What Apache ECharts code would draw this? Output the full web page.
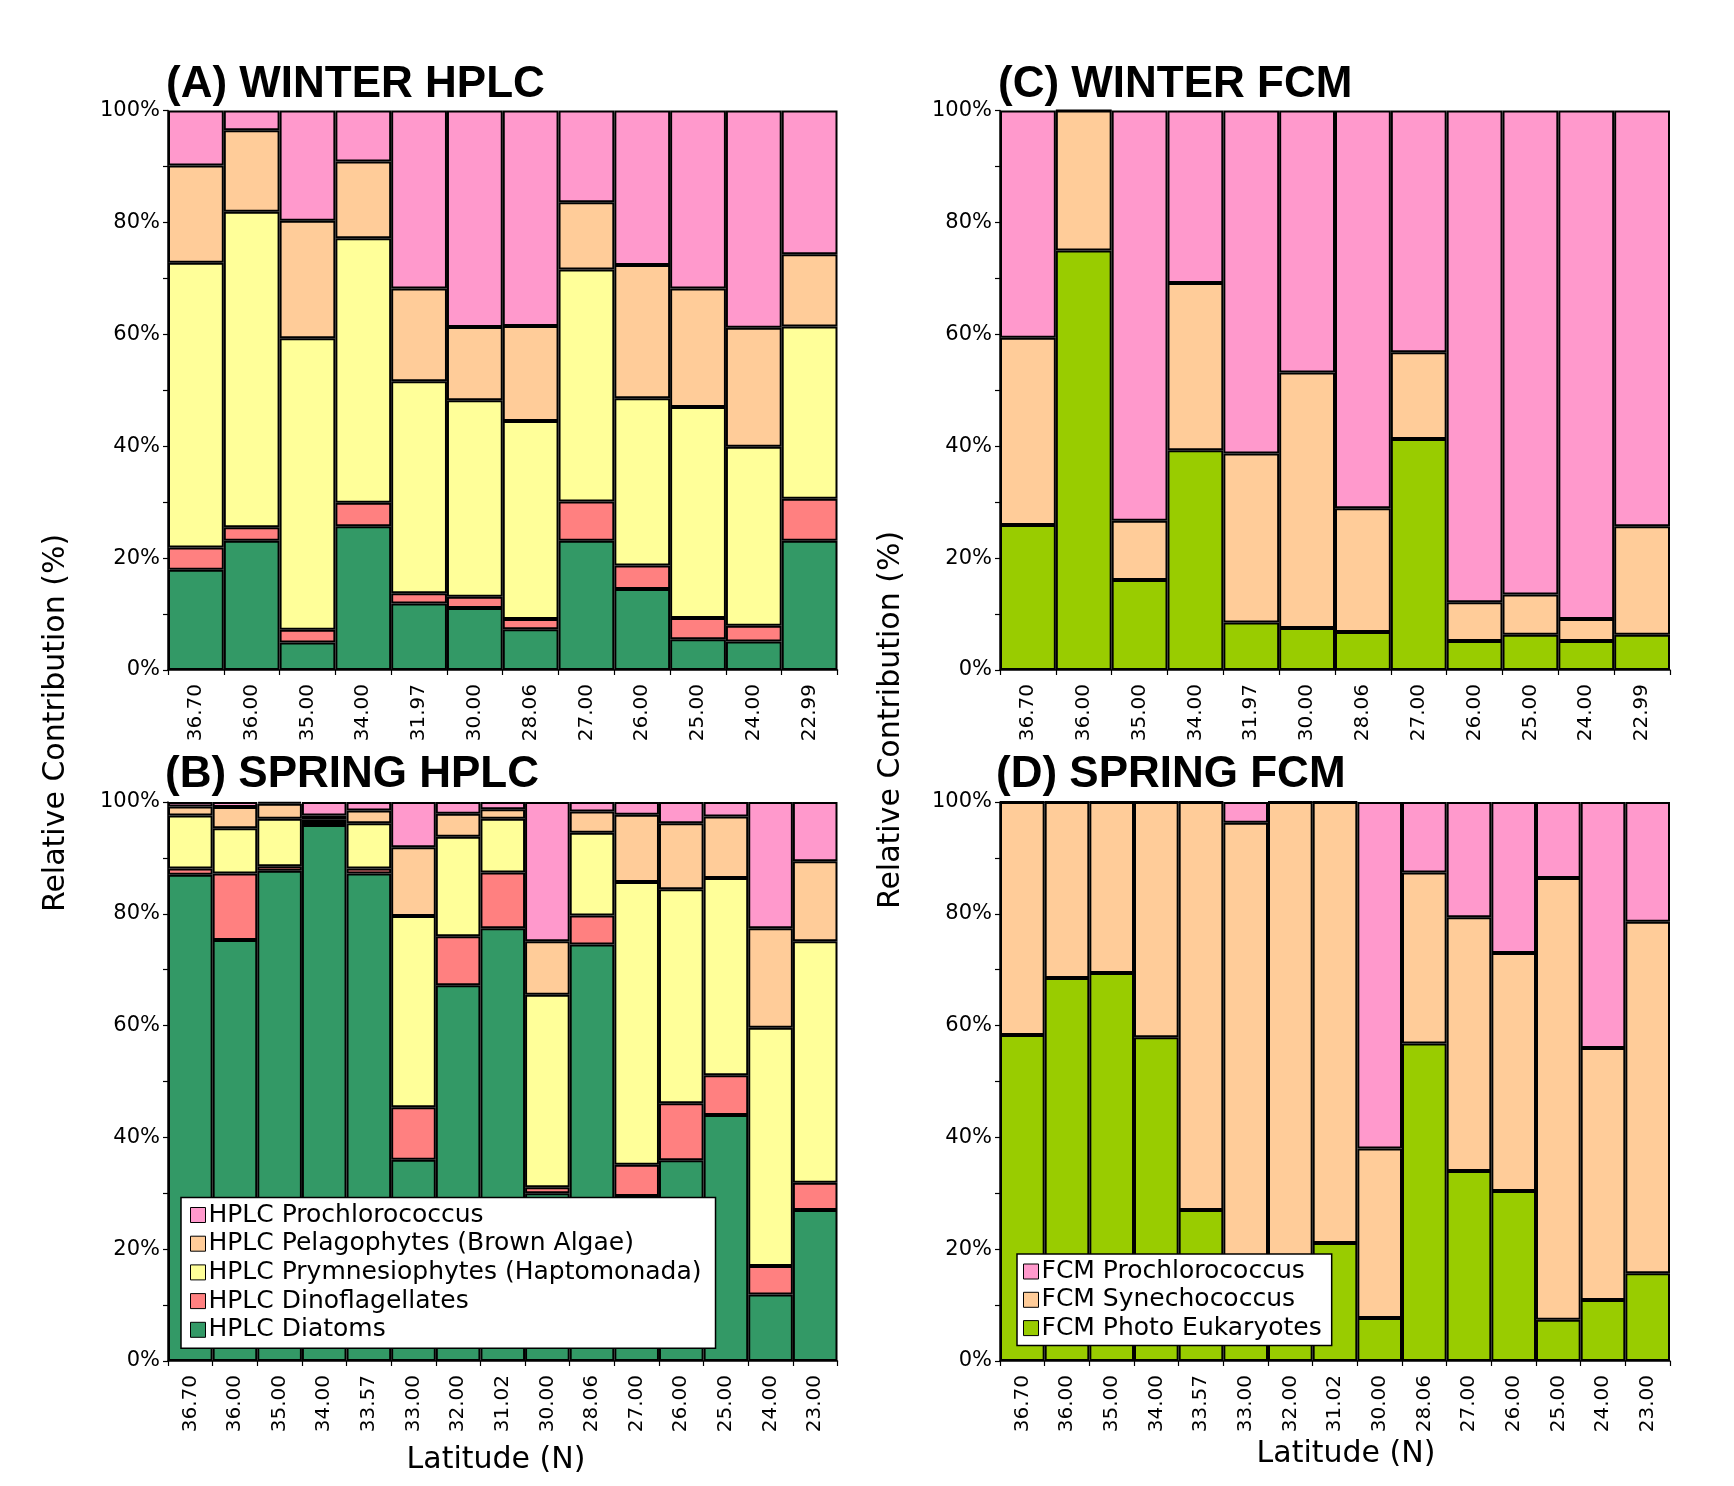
<!DOCTYPE html>
<html><head><meta charset="utf-8">
<script src="https://cdn.jsdelivr.net/npm/echarts@6/dist/echarts.min.js"></script>
<style>html,body{margin:0;padding:0;background:#fff}#c{width:1734px;height:1486px}</style>
</head><body><div id="c"></div>
<script>
// ---- Categories (latitude, N) ----
const winterLat = ['36.70','36.00','35.00','34.00','31.97','30.00','28.06','27.00','26.00','25.00','24.00','22.99'];
const springLat = ['36.70','36.00','35.00','34.00','33.57','33.00','32.00','31.02','30.00','28.06','27.00','26.00','25.00','24.00','23.00'];
const yTicks = [0, 20, 40, 60, 80, 100];

// ---- (A) Winter HPLC, % contribution per group (stack bottom -> top) ----
const wHplcDiatoms   = [17.9, 23.1,  4.9, 25.7, 11.9, 11.1,  7.3, 23.1, 14.5,  5.5,  5.1, 23.1];
const wHplcDino      = [ 4.0,  2.4,  2.3,  4.2,  1.8,  2.0,  1.8,  7.0,  4.2,  3.8,  2.8,  7.5];
const wHplcPrym      = [50.9, 56.4, 52.1, 47.3, 37.9, 35.1, 35.4, 41.5, 29.9, 37.7, 32.0, 30.8];
const wHplcPelago    = [17.4, 14.6, 21.0, 13.7, 16.6, 13.1, 17.0, 12.0, 23.8, 21.2, 21.3, 12.9];
const wHplcProchl    = [ 9.8,  3.5, 19.7,  9.1, 31.8, 38.7, 38.5, 16.4, 27.6, 31.8, 38.8, 25.7];

// ---- (B) Spring HPLC ----
const sHplcDiatoms   = [87.0, 75.3, 87.7, 95.9, 87.2, 36.0, 67.2, 77.4, 30.0, 74.5, 29.5, 35.9, 44.0, 11.9, 27.0];
const sHplcDino      = [ 1.1, 11.9,  0.8,  0.5,  0.9,  9.4,  8.8, 10.0,  1.1,  5.2,  5.6, 10.2,  7.1,  5.1,  4.9];
const sHplcPrym      = [ 9.5,  8.1,  8.5,  0.5,  8.1, 34.2, 17.8,  9.6, 34.4, 14.8, 50.6, 38.3, 35.3, 42.6, 43.2];
const sHplcPelago    = [ 1.6,  3.8,  2.7,  0.7,  2.3, 12.3,  4.1,  1.7,  9.6,  3.8, 12.0, 11.8, 11.0, 17.8, 14.3];
const sHplcProchl    = [ 0.8,  0.9,  0.3,  2.4,  1.5,  8.1,  2.1,  1.3, 24.9,  1.7,  2.3,  3.8,  2.6, 22.6, 10.6];

// ---- (C) Winter FCM ----
const wFcmEuk        = [25.9, 75.0, 16.1, 39.3,  8.5,  7.5,  6.8, 41.3,  5.2,  6.3,  5.2,  6.3];
const wFcmSyn        = [33.5, 25.0, 10.6, 29.9, 30.2, 45.7, 22.1, 15.5,  6.9,  7.2,  3.9, 19.4];
const wFcmPro        = [40.6,  0.0, 73.3, 30.8, 61.3, 46.8, 71.1, 43.2, 87.9, 86.5, 90.9, 74.3];

// ---- (D) Spring FCM ----
const sFcmEuk        = [58.3, 68.5, 69.4, 57.9, 27.0, 12.0, 14.0, 21.1,  7.7, 56.8, 34.0, 30.4,  7.4, 10.9, 15.7];
const sFcmSyn        = [41.7, 31.5, 30.6, 42.1, 73.0, 84.3, 86.0, 78.9, 30.3, 30.6, 45.4, 42.6, 79.0, 45.1, 62.9];
const sFcmPro        = [ 0.0,  0.0,  0.0,  0.0,  0.0,  3.7,  0.0,  0.0, 62.0, 12.6, 20.6, 27.0, 13.6, 44.0, 21.4];

const C = {
  pink: '#FF99CC', tan: '#FFCC99', yellow: '#FFFF99', salmon: '#FF8080',
  green: '#339966', lime: '#99CC00'
};
const FONT = 'DejaVu Sans';

const grids = [
  {left: 168, top: 110.6, width: 669.5, height: 559.4},   // A
  {left: 168, top: 802,   width: 669.5, height: 559},     // B
  {left: 1000, top: 110.6, width: 670, height: 559.4},    // C
  {left: 1000, top: 802,   width: 670, height: 559}       // D
];
const cats = [winterLat, springLat, winterLat, springLat];

const xAxes = cats.map((c, i) => ({
  type: 'category', gridIndex: i, data: c, boundaryGap: true,
  axisLine: {show: true, lineStyle: {color: '#000', width: 1.5}},
  axisTick: {show: true, length: 5, lineStyle: {color: '#000', width: 1.2}},
  axisLabel: {rotate: 90, interval: 0, margin: 14, color: '#000', fontFamily: FONT, fontSize: 20}
}));
const yAxes = cats.map((c, i) => ({
  type: 'value', gridIndex: i, min: 0, max: 100, interval: 10,
  axisLine: {show: true, lineStyle: {color: '#000', width: 1.5}},
  axisTick: {show: true, length: 5, lineStyle: {color: '#000', width: 1.2}},
  splitLine: {show: false},
  axisLabel: {
    margin: 8, color: '#000', fontFamily: FONT, fontSize: 21,
    formatter: v => (yTicks.indexOf(v) >= 0 ? v + '%' : '')
  }
}));

function mk(name, data, color, idx) {
  return {
    name, type: 'bar', data, stack: 'p' + idx, xAxisIndex: idx, yAxisIndex: idx,
    barCategoryGap: '0%', barGap: '0%',
    itemStyle: {color, borderColor: '#000', borderWidth: 2},
    emphasis: {disabled: true}, animation: false
  };
}

const series = [
  mk('HPLC Diatoms', wHplcDiatoms, C.green, 0),
  mk('HPLC Dinoflagellates', wHplcDino, C.salmon, 0),
  mk('HPLC Prymnesiophytes (Haptomonada)', wHplcPrym, C.yellow, 0),
  mk('HPLC Pelagophytes (Brown Algae)', wHplcPelago, C.tan, 0),
  mk('HPLC Prochlorococcus', wHplcProchl, C.pink, 0),

  mk('HPLC Diatoms', sHplcDiatoms, C.green, 1),
  mk('HPLC Dinoflagellates', sHplcDino, C.salmon, 1),
  mk('HPLC Prymnesiophytes (Haptomonada)', sHplcPrym, C.yellow, 1),
  mk('HPLC Pelagophytes (Brown Algae)', sHplcPelago, C.tan, 1),
  mk('HPLC Prochlorococcus', sHplcProchl, C.pink, 1),

  mk('FCM Photo Eukaryotes', wFcmEuk, C.lime, 2),
  mk('FCM Synechococcus', wFcmSyn, C.tan, 2),
  mk('FCM Prochlorococcus', wFcmPro, C.pink, 2),

  mk('FCM Photo Eukaryotes', sFcmEuk, C.lime, 3),
  mk('FCM Synechococcus', sFcmSyn, C.tan, 3),
  mk('FCM Prochlorococcus', sFcmPro, C.pink, 3)
];

const titleStyle = {fontFamily: 'Liberation Sans', fontWeight: 'bold', fontSize: 44, color: '#000'};
const legendCommon = {
  orient: 'vertical', icon: 'rect', itemWidth: 15, itemHeight: 15,
  backgroundColor: '#fff', borderColor: '#000', borderWidth: 1.5, borderRadius: 0,
  itemStyle: {borderColor: '#000', borderWidth: 1},
  textStyle: {fontFamily: FONT, fontSize: 25, lineHeight: 25, color: '#000', padding: [0, 0, 0, -2]},
  selectedMode: false, z: 10
};

const option = {
  backgroundColor: '#fff',
  animation: false,
  title: [
    {text: '(A) WINTER HPLC', left: 166, top: 62.75, padding: 0, textStyle: titleStyle},
    {text: '(B) SPRING HPLC', left: 165, top: 752.75, padding: 0, textStyle: titleStyle},
    {text: '(C) WINTER FCM', left: 998, top: 62.75, padding: 0, textStyle: titleStyle},
    {text: '(D) SPRING FCM', left: 996, top: 752.75, padding: 0, textStyle: titleStyle}
  ],
  legend: [
    Object.assign({}, legendCommon, {
      left: 181, top: 1197.5, padding: [5, 14, 6, 9], itemGap: 3.7,
      data: ['HPLC Prochlorococcus', 'HPLC Pelagophytes (Brown Algae)', 'HPLC Prymnesiophytes (Haptomonada)', 'HPLC Dinoflagellates', 'HPLC Diatoms']
    }),
    Object.assign({}, legendCommon, {
      left: 1017, top: 1254, padding: [5, 10, 5, 6], itemGap: 3.3,
      data: ['FCM Prochlorococcus', 'FCM Synechococcus', 'FCM Photo Eukaryotes']
    })
  ],
  grid: grids,
  xAxis: xAxes,
  yAxis: yAxes,
  series,
  graphic: [
    {type: 'text', x: 56, y: 723, rotation: Math.PI / 2,
     style: {text: 'Relative Contribution (%)', font: '30px "DejaVu Sans"', fill: '#000', textAlign: 'center', textVerticalAlign: 'middle'}},
    {type: 'text', x: 891, y: 720, rotation: Math.PI / 2,
     style: {text: 'Relative Contribution (%)', font: '30px "DejaVu Sans"', fill: '#000', textAlign: 'center', textVerticalAlign: 'middle'}},
    {type: 'text', x: 496, y: 1460.6,
     style: {text: 'Latitude (N)', font: '30px "DejaVu Sans"', fill: '#000', textAlign: 'center', textVerticalAlign: 'middle'}},
    {type: 'text', x: 1346, y: 1454.6,
     style: {text: 'Latitude (N)', font: '30px "DejaVu Sans"', fill: '#000', textAlign: 'center', textVerticalAlign: 'middle'}}
  ]
};

const chart = echarts.init(document.getElementById('c'), null, {renderer: 'canvas'});
chart.setOption(option);
</script>
</body></html>
